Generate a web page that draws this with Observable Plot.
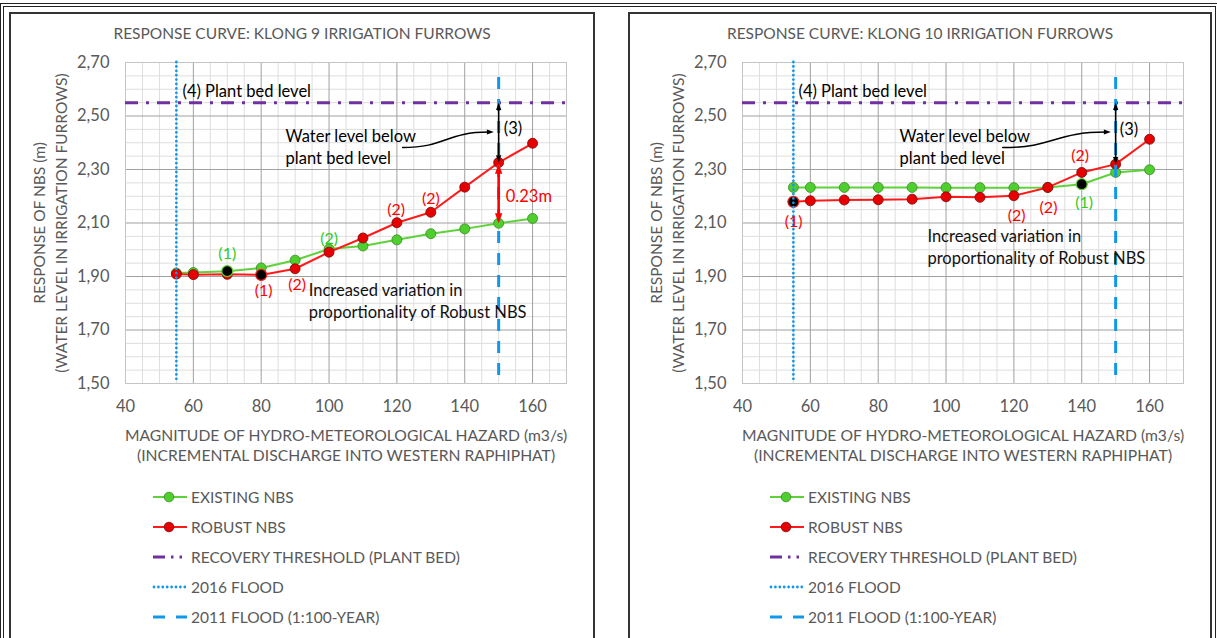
<!DOCTYPE html>
<html><head><meta charset="utf-8">
<script src="https://cdn.jsdelivr.net/npm/d3@7"></script>
<script src="https://cdn.jsdelivr.net/npm/@observablehq/plot@0.6"></script>
<style>
body{margin:0;background:#fff;font-family:Lato,"Open Sans",sans-serif;}
#page{position:relative;width:1217px;height:638px;overflow:hidden;background:#fff;}
.outer{position:absolute;left:0px;top:3px;width:1211px;height:700px;border:4px double #222;}
.panel{position:absolute;top:12px;height:700px;border:2px solid #333;background:#fff;}
.title{position:absolute;left:0;right:0;top:10px;text-align:center;font-size:15.5px;color:#595959;}
.legend{position:absolute;font-size:15.5px;color:#595959;}
.legend .row{height:30px;display:flex;align-items:center;}
.legend svg{margin-right:3px;}
.chart{position:absolute;left:0;top:36px;}
</style>
</head><body>
<div id="page">
  <div class="outer"></div>
  <div class="panel" id="p1" style="left:9px;width:582px;"></div>
  <div class="panel" id="p2" style="left:628px;width:580px;"></div>
</div>
<script>
// ---------- data ----------
const discharge = [55, 60, 70, 80, 90, 100, 110, 120, 130, 140, 150, 160];
const k9Existing = [1.913, 1.915, 1.920, 1.932, 1.961, 2.003, 2.014, 2.037, 2.060, 2.078, 2.099, 2.117];
const k9Robust   = [1.909, 1.907, 1.908, 1.906, 1.929, 1.991, 2.044, 2.101, 2.140, 2.234, 2.326, 2.398];
const k10Existing = [2.233, 2.233, 2.233, 2.233, 2.233, 2.232, 2.232, 2.232, 2.233, 2.245, 2.289, 2.299];
const k10Robust   = [2.179, 2.183, 2.186, 2.187, 2.189, 2.198, 2.196, 2.202, 2.233, 2.289, 2.320, 2.413];
const plantBedLevel = 2.55;
const flood2016 = 55;
const flood2011 = 150;
const xTicks = [40, 60, 80, 100, 120, 140, 160];
const yTicks = [1.5, 1.7, 1.9, 2.1, 2.3, 2.5, 2.7];
const titles = ["RESPONSE CURVE: KLONG 9 IRRIGATION FURROWS", "RESPONSE CURVE: KLONG 10 IRRIGATION FURROWS"];
const yTitle = ["RESPONSE OF NBS (m)", "(WATER LEVEL IN IRRIGATION FURROWS)"];
const xTitle = ["MAGNITUDE OF HYDRO-METEOROLOGICAL HAZARD (m3/s)", "(INCREMENTAL DISCHARGE INTO WESTERN RAPHIPHAT)"];
const legendLabels = ["EXISTING NBS", "ROBUST NBS", "RECOVERY THRESHOLD (PLANT BED)", "2016 FLOOD", "2011 FLOOD (1:100-YEAR)"];
// highlighted (black) points: [x, series]
const k9Highlights = [[70, "existing"], [80, "robust"]];
const k10Highlights = [[55, "robust"], [140, "existing"]];
// numbered labels: [x, y, text, series]
const k9Labels = [[70, 1.985, "(1)", "existing"], [100, 2.040, "(2)", "existing"], [80.7, 1.848, "(1)", "robust"],
  [90.6, 1.869, "(2)", "robust"], [119.8, 2.150, "(2)", "robust"], [130, 2.190, "(2)", "robust"]];
const k10Labels = [[55.1, 2.104, "(1)", "robust"], [120.8, 2.127, "(2)", "robust"], [130.2, 2.158, "(2)", "robust"],
  [140.7, 2.177, "(1)", "existing"], [139.5, 2.350, "(2)", "robust"]];
// notes
const k9Notes = {plantBed: [56.8, 2.59], water: [87.2, 2.424, 2.342], three: [151.5, 2.454], curve: [[121.7, 2.382], [148.6, 2.44]],
  variation: [94, 1.847, 1.765], gap: [152.1, 2.197, "0.23m"], redArrow: [2.099, 2.326], blackArrow: [2.326, 2.55]};
const k10Notes = {plantBed: [56.5, 2.59], water: [86.3, 2.424, 2.342], three: [151.2, 2.45], curve: [[116.7, 2.382], [148.6, 2.44]],
  variation: [94.5, 2.05, 1.966], gap: null, redArrow: null, blackArrow: [2.320, 2.55]};

// ---------- styles ----------
const GREEN = "#5fd13b", GREEN_DOT = "#4fcf2f", GREEN_EDGE = "#3b8a22";
const RED = "#ff1a1a", RED_DOT = "#e60000", RED_EDGE = "#7a0a0a";
const PURPLE = "#7030a0", BLUE = "#1397e8";
const TXT = "#595959";
const fmt = d => d.toFixed(2).replace(".", ",");

const triUp = {draw(c, size){ const r = Math.sqrt(size/Math.PI); c.moveTo(0,0); c.lineTo(-0.8*r, 2.2*r); c.lineTo(0.8*r, 2.2*r); c.closePath(); }};
const triDown = {draw(c, size){ const r = Math.sqrt(size/Math.PI); c.moveTo(0,0); c.lineTo(-0.8*r, -2.2*r); c.lineTo(0.8*r, -2.2*r); c.closePath(); }};
const triRight = {draw(c, size){ const r = Math.sqrt(size/Math.PI); c.moveTo(0,0); c.lineTo(-2.2*r, -0.8*r); c.lineTo(-2.2*r, 0.8*r); c.closePath(); }};

function makeChart(existing, robust, highlights, labels, notes, ml, width) {
  const ex = discharge.map((x, i) => ({x, y: existing[i]}));
  const rb = discharge.map((x, i) => ({x, y: robust[i]}));
  const hl = highlights.map(([x, s]) => ({x, y: (s === "existing" ? existing : robust)[discharge.indexOf(x)], s}));
  const minorX = d3.range(45, 170, 5).filter(v => v % 20 !== 0);
  const majorX = d3.range(60, 170, 20);
  const minorY = d3.range(1.55, 2.70, 0.05).filter(v => Math.abs((v - 1.5) / 0.2 - Math.round((v - 1.5) / 0.2)) > 1e-6);
  const majorY = [1.7, 1.9, 2.1, 2.3, 2.5];
  const marks = [
    Plot.ruleX(minorX, {stroke: "#dedede", strokeWidth: 1}),
    Plot.ruleY(minorY, {stroke: "#dedede", strokeWidth: 1}),
    Plot.ruleX(majorX, {stroke: "#a0a0a0", strokeWidth: 1}),
    Plot.ruleY(majorY, {stroke: "#a0a0a0", strokeWidth: 1}),
    Plot.frame({stroke: "#c4c4c4"}),
    Plot.axisX({ticks: xTicks, tickSize: 0, tickPadding: 17, label: null, fontSize: 16.5}),
    Plot.axisY({ticks: yTicks, tickSize: 0, tickPadding: 16, label: null, tickFormat: fmt, fontSize: 16.5}),
    Plot.ruleY([plantBedLevel], {stroke: PURPLE, strokeWidth: 3, strokeDasharray: "13,8,3,8"}),
    Plot.line(ex, {x: "x", y: "y", stroke: GREEN, strokeWidth: 2}),
    Plot.dot(ex, {x: "x", y: "y", r: 5, fill: GREEN_DOT, stroke: GREEN_EDGE, strokeWidth: 0.8}),
    Plot.line(rb, {x: "x", y: "y", stroke: RED, strokeWidth: 2}),
    Plot.dot(rb, {x: "x", y: "y", r: 5, fill: RED_DOT, stroke: RED_EDGE, strokeWidth: 0.8}),
    Plot.dot(hl, {x: "x", y: "y", r: 5.5, fill: "#000", stroke: d => d.s === "existing" ? GREEN : RED, strokeWidth: 1.2}),
    Plot.ruleX([flood2016], {stroke: BLUE, strokeWidth: 2.8, strokeDasharray: "0,4.4", strokeLinecap: "round"}),
    Plot.ruleX([flood2011], {y1: 1.53, y2: 2.68, stroke: BLUE, strokeWidth: 3, strokeDasharray: "12,10"}),
  ];
  if (notes.redArrow) {
    const [a, b] = notes.redArrow;
    marks.push(Plot.ruleX([flood2011], {y1: a + 0.03, y2: b - 0.03, stroke: "#ff0000", strokeWidth: 2.6}));
    marks.push(Plot.dot([[flood2011, b - 0.004]], {symbol: triUp, r: 4.6, fill: "#ff0000"}));
    marks.push(Plot.dot([[flood2011, a]], {symbol: triDown, r: 4.6, fill: "#ff0000"}));
  }
  {
    const [a, b] = notes.blackArrow;
    marks.push(Plot.ruleX([flood2011], {y1: a + 0.02, y2: b - 0.02, stroke: "#000", strokeWidth: 1.6}));
    marks.push(Plot.dot([[flood2011, b]], {symbol: triUp, r: 3.3, fill: "#000"}));
    marks.push(Plot.dot([[flood2011, a]], {symbol: triDown, r: 3.3, fill: "#000"}));
  }
  const [c0, c1] = notes.curve;
  marks.push(Plot.line([c0, [c1[0] - 1.4, c1[1]]], {curve: "bump-x", stroke: "#000", strokeWidth: 1.5}));
  marks.push(Plot.dot([c1], {symbol: triRight, r: 3.2, fill: "#000"}));
  const T = {fontSize: 16.5, fill: "#000", textAnchor: "start"};
  marks.push(Plot.text([notes.plantBed], {...T, text: () => "(4) Plant bed level"}));
  marks.push(Plot.text([[notes.water[0], notes.water[1]]], {...T, text: () => "Water level below"}));
  marks.push(Plot.text([[notes.water[0], notes.water[2]]], {...T, text: () => "plant bed level"}));
  marks.push(Plot.text([notes.three], {...T, text: () => "(3)"}));
  marks.push(Plot.text([[notes.variation[0], notes.variation[1]]], {...T, fill: "#111", text: () => "Increased variation in"}));
  marks.push(Plot.text([[notes.variation[0], notes.variation[2]]], {...T, fill: "#111", text: () => "proportionality of Robust NBS"}));
  if (notes.gap) marks.push(Plot.text([notes.gap], {...T, fill: "#ff0000", text: d => d[2]}));
  marks.push(Plot.text(labels, {x: d => d[0], y: d => d[1], text: d => d[2], fontSize: 16,
    fill: d => d[3] === "existing" ? "#2ecc1a" : "#ff0000"}));
  marks.push(Plot.text([yTitle[0]], {frameAnchor: "left", textAnchor: "middle", rotate: -90, dx: -85, fontSize: 15.5, fill: TXT, text: d => d}));
  marks.push(Plot.text([yTitle[1]], {frameAnchor: "left", textAnchor: "middle", rotate: -90, dx: -63, fontSize: 15.5, fill: TXT, text: d => d}));
  marks.push(Plot.text([xTitle[0]], {frameAnchor: "bottom", dy: 57, fontSize: 15.7, fill: TXT, text: d => d}));
  marks.push(Plot.text([xTitle[1]], {frameAnchor: "bottom", dy: 77, fontSize: 15.7, fill: TXT, text: d => d}));
  return Plot.plot({
    width, height: 420,
    marginTop: 12, marginBottom: 87, marginLeft: ml, marginRight: width - ml - 441,
    x: {domain: [40, 170]},
    y: {domain: [1.5, 2.7]},
    style: {fontFamily: "Lato, 'Open Sans', sans-serif", fontSize: "15px", color: TXT, background: "transparent", overflow: "visible"},
    marks
  });
}

function legendSymbol(i) {
  const svg = d3.create("svg").attr("width", 36).attr("height", 14);
  const line = svg.append("line").attr("x1", 1).attr("x2", 35).attr("y1", 7).attr("y2", 7);
  if (i === 0) { line.attr("stroke", GREEN).attr("stroke-width", 2); svg.append("circle").attr("cx", 17).attr("cy", 7).attr("r", 4.8).attr("fill", GREEN_DOT).attr("stroke", GREEN_EDGE).attr("stroke-width", 0.8); }
  if (i === 1) { line.attr("stroke", RED).attr("stroke-width", 2); svg.append("circle").attr("cx", 17).attr("cy", 7).attr("r", 4.8).attr("fill", RED_DOT).attr("stroke", RED_EDGE).attr("stroke-width", 0.8); }
  if (i === 2) { line.attr("stroke", PURPLE).attr("stroke-width", 3).attr("stroke-dasharray", "12,6,2.5,6,2.5,6"); }
  if (i === 3) { line.attr("stroke", BLUE).attr("stroke-width", 2.8).attr("stroke-dasharray", "0,4.4").attr("stroke-linecap", "round").attr("x1", 2); }
  if (i === 4) { line.attr("stroke", BLUE).attr("stroke-width", 3).attr("stroke-dasharray", "12,11"); }
  return svg.node();
}

function buildPanel(id, title, chart, legendLeft) {
  const p = document.getElementById(id);
  const t = document.createElement("div"); t.className = "title"; t.textContent = title; p.appendChild(t);
  chart.classList.add("chart"); p.appendChild(chart);
  const lg = document.createElement("div"); lg.className = "legend"; lg.style.left = legendLeft + "px"; lg.style.top = "468px";
  legendLabels.forEach((lab, i) => {
    const r = document.createElement("div"); r.className = "row";
    r.appendChild(legendSymbol(i));
    const s = document.createElement("span"); s.textContent = lab; r.appendChild(s);
    lg.appendChild(r);
  });
  p.appendChild(lg);
}

buildPanel("p1", titles[0], makeChart(k9Existing, k9Robust, k9Highlights, k9Labels, k9Notes, 114, 582), 141);
buildPanel("p2", titles[1], makeChart(k10Existing, k10Robust, k10Highlights, k10Labels, k10Notes, 112, 580), 139);
</script>
</body></html>
